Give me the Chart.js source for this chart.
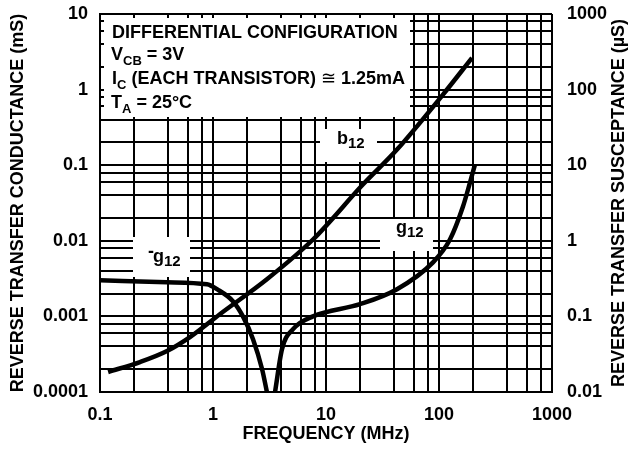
<!DOCTYPE html>
<html>
<head>
<meta charset="utf-8">
<script src="https://cdn.jsdelivr.net/npm/chart.js@4.4.0/dist/chart.umd.min.js"></script>
<style>
  html, body { margin: 0; padding: 0; background: #fff; }
  #wrap { width: 631px; height: 450px; }
</style>
</head>
<body>
<div id="wrap"><canvas id="chart" width="631" height="450"></canvas></div>
<script>
// grid / tick values (log axes, lines at 1, 2, 4, 6, 8 of every decade)
const xGridValues = [0.1, 0.2, 0.4, 0.6, 0.8, 1, 2, 4, 6, 8, 10, 20, 40, 60, 80, 100, 200, 400, 600, 800, 1000];
const yGridValues = [0.0001, 0.0002, 0.0004, 0.0006, 0.0008, 0.001, 0.002, 0.004, 0.006, 0.008,
                     0.01, 0.02, 0.04, 0.06, 0.08, 0.1, 0.2, 0.4, 0.6, 0.8, 1, 2, 4, 6, 8, 10];
const y2TickValues = [0.01, 0.1, 1, 10, 100, 1000];

const xTickLabels = ['0.1', '1', '10', '100', '1000'];
const yTickLabels = ['0.0001', '0.001', '0.01', '0.1', '1', '10'];
const y2TickLabels = ['0.01', '0.1', '1', '10', '100', '1000'];

// b12 (read on the left mS scale)
const b12Freq  = [0.118, 0.226, 0.392, 0.625, 1.15, 3.0, 7.67, 21.2, 42.5, 108, 196];
const b12Value = [1.84e-4, 2.49e-4, 3.48e-4, 5.32e-4, 1.07e-3, 3.1e-3, 0.0104, 0.0555, 0.161, 0.853, 2.63];

// -g12
const negG12Freq  = [0.1, 0.39, 0.885, 1.085, 1.5, 1.84, 2.26, 2.72, 3.0];
const negG12Value = [3.0e-3, 2.83e-3, 2.66e-3, 2.29e-3, 1.59e-3, 1.0e-3, 5.0e-4, 2.0e-4, 1.0e-4];

// g12
const g12Freq  = [3.54, 4.08, 5.11, 7.67, 20, 42.5, 88.5, 125, 163, 188, 208];
const g12Value = [1.0e-4, 3.69e-4, 6.78e-4, 1.0e-3, 1.45e-3, 2.29e-3, 5.19e-3, 0.0104, 0.0284, 0.0589, 0.102];

const FONT = "'Liberation Sans', Arial, Helvetica, sans-serif";
const TEXT_SIZE = 18;

function toPoints(xs, ys) {
    return xs.map((x, i) => ({ x: x, y: ys[i] }));
}

// 10のべき乗のときだけラベルを返す
function decadeLabel(v, min, labels) {
    const e = Math.log10(v / min);
    const i = Math.round(e);
    return Math.abs(e - i) < 1e-6 ? labels[i] : '';
}

function drawRich(ctx, x, y, parts) {
    let cx = x;
    parts.forEach(p => {
        const size = p.size || TEXT_SIZE;
        ctx.font = `${p.normal ? '' : 'bold '}${size}px ${FONT}`;
        ctx.fillText(p.t, cx, y + (p.dy || 0));
        cx += ctx.measureText(p.t).width + (p.gap || 0);
    });
}

// 白抜きボックスと注記テキスト
const annotationPlugin = {
    id: 'annotations',
    beforeDatasetsDraw(chart) {
        const ctx = chart.ctx;
        const a = chart.chartArea;
        ctx.save();
        ctx.fillStyle = '#fff';
        ctx.fillRect(a.left + 4, a.top + 4, 410 - a.left - 4, 117 - a.top - 4);
        ctx.fillRect(320, 129, 57, 33);
        ctx.fillRect(380, 219, 53, 32);
        ctx.fillRect(133, 237, 57, 40);
        ctx.restore();
    },
    afterDatasetsDraw(chart) {
        const ctx = chart.ctx;
        ctx.save();
        ctx.fillStyle = '#000';
        ctx.textBaseline = 'alphabetic';
        ctx.textAlign = 'left';

        const sub = { size: 13, dy: 5 };
        drawRich(ctx, 112, 38, [{ t: 'DIFFERENTIAL CONFIGURATION' }]);
        drawRich(ctx, 111, 60, [{ t: 'V' }, { t: 'CB', ...sub }, { t: ' = 3V' }]);
        drawRich(ctx, 112, 84, [{ t: 'I' }, { t: 'C', ...sub }, { t: ' (EACH TRANSISTOR) ' }, { t: '\u2245', normal: true }, { t: ' 1.25mA' }]);
        drawRich(ctx, 111, 108, [{ t: 'T' }, { t: 'A', ...sub }, { t: ' = 25°C' }]);

        const lsub = { size: 15, dy: 4 };
        drawRich(ctx, 337, 144, [{ t: 'b' }, { t: '12', ...lsub }]);
        drawRich(ctx, 396, 233, [{ t: 'g' }, { t: '12', ...lsub }]);
        drawRich(ctx, 148, 262, [{ t: '-', dy: -5, gap: -1 }, { t: 'g' }, { t: '12', ...lsub }]);

        // 右軸タイトル（下から上へ）
        ctx.translate(619, (chart.chartArea.top + chart.chartArea.bottom) / 2);
        ctx.rotate(-Math.PI / 2);
        ctx.textAlign = 'center';
        ctx.textBaseline = 'middle';
        ctx.font = `bold ${TEXT_SIZE}px ${FONT}`;
        ctx.fillText('REVERSE TRANSFER SUSCEPTANCE (\u00b5S)', 0, 0);
        ctx.restore();
    }
};

const axisFont = { family: FONT, size: TEXT_SIZE, weight: 'bold' };

// 縦軸のラベル分の上下余白を消してプロット領域を固定する
function fixVertical(width) {
    return s => {
        s.width = width;
        s.paddingTop = 0;
        s.paddingBottom = 0;
    };
}

new Chart(document.getElementById('chart'), {
    type: 'line',
    data: {
        datasets: [
            { label: 'b12', data: toPoints(b12Freq, b12Value) },
            { label: '-g12', data: toPoints(negG12Freq, negG12Value) },
            { label: 'g12', data: toPoints(g12Freq, g12Value) }
        ]
    },
    options: {
        responsive: false,
        animation: false,
        devicePixelRatio: 1,
        layout: { padding: { top: 14, left: 0, right: 0, bottom: 0 } },
        plugins: { legend: { display: false }, tooltip: { enabled: false } },
        elements: {
            point: { radius: 0 },
            line: { borderWidth: 4.5, borderColor: '#000', cubicInterpolationMode: 'monotone', fill: false }
        },
        scales: {
            x: {
                type: 'logarithmic',
                min: 0.1,
                max: 1000,
                afterBuildTicks: s => { s.ticks = xGridValues.map(v => ({ value: v })); },
                afterFit: s => { s.height = 58; s.paddingLeft = 0; s.paddingRight = 0; },
                grid: { color: '#000', lineWidth: 2, drawTicks: false },
                border: { color: '#000', width: 2 },
                ticks: {
                    autoSkip: false, maxRotation: 0, padding: 12, color: '#000', font: axisFont,
                    callback: v => decadeLabel(v, 0.1, xTickLabels)
                },
                title: { display: true, text: 'FREQUENCY (MHz)', color: '#000', font: axisFont, padding: { top: 0, bottom: 5 } }
            },
            y: {
                type: 'logarithmic',
                position: 'left',
                min: 0.0001,
                max: 10,
                afterBuildTicks: s => { s.ticks = yGridValues.map(v => ({ value: v })); },
                afterFit: fixVertical(100),
                grid: { color: '#000', lineWidth: 2, drawTicks: false },
                border: { color: '#000', width: 2 },
                ticks: {
                    autoSkip: false, padding: 12, color: '#000', font: axisFont,
                    callback: v => decadeLabel(v, 0.0001, yTickLabels)
                },
                title: { display: true, text: 'REVERSE TRANSFER CONDUCTANCE (mS)', color: '#000', font: axisFont, padding: { top: 7, bottom: 0 } }
            },
            y2: {
                type: 'logarithmic',
                position: 'right',
                min: 0.01,
                max: 1000,
                afterBuildTicks: s => { s.ticks = y2TickValues.map(v => ({ value: v })); },
                afterFit: fixVertical(79),
                grid: { display: false, drawTicks: false },
                border: { display: false },
                ticks: {
                    autoSkip: false, padding: 15, color: '#000', font: axisFont,
                    callback: v => decadeLabel(v, 0.01, y2TickLabels)
                }
            }
        }
    },
    plugins: [annotationPlugin]
});
</script>
</body>
</html>
